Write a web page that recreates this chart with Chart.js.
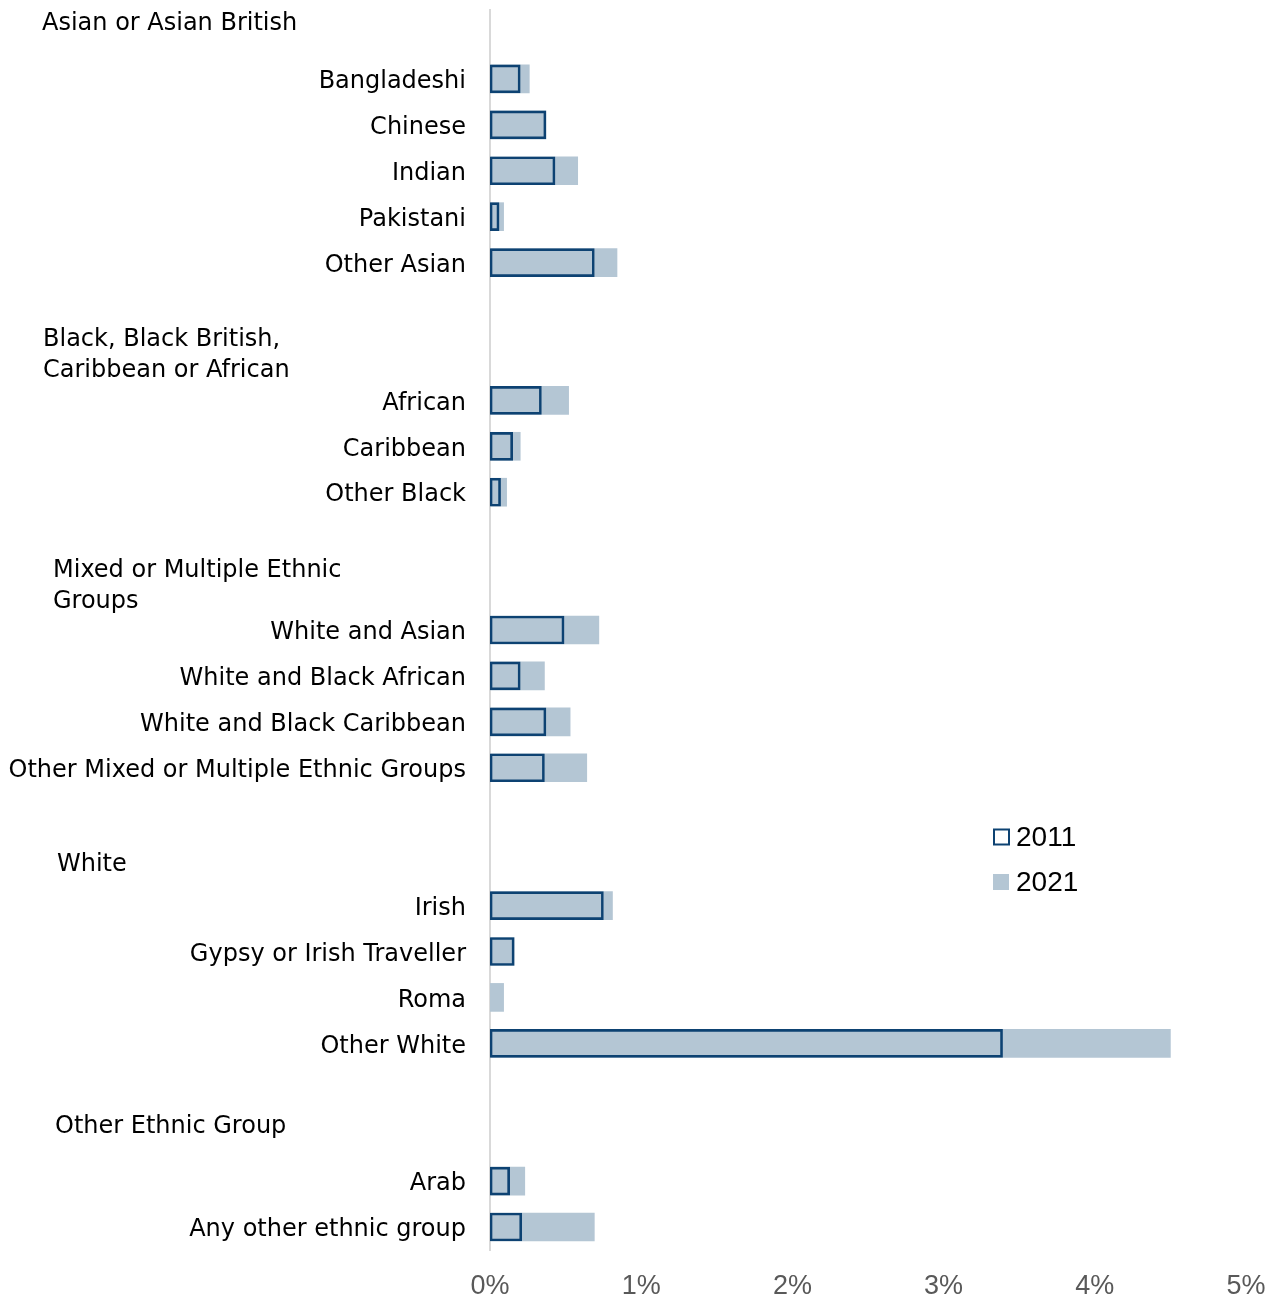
<!DOCTYPE html>
<html>
<head>
<meta charset="utf-8">
<script src="https://cdn.jsdelivr.net/npm/chart.js@4"></script>
<style>
html,body{margin:0;padding:0;background:#fff;}
#wrap{position:relative;width:1275px;height:1298px;}
</style>
</head>
<body>
<div id="wrap"><canvas id="c"></canvas></div>
<script>
const categories = ['', 'Bangladeshi', 'Chinese', 'Indian', 'Pakistani', 'Other Asian', '', '',
  'African', 'Caribbean', 'Other Black', '', '',
  'White and Asian', 'White and Black African', 'White and Black Caribbean', 'Other Mixed or Multiple Ethnic Groups', '', '',
  'Irish', 'Gypsy or Irish Traveller', 'Roma', 'Other White', '', '',
  'Arab', 'Any other ethnic group'];
const values2011 = [null, 0.20, 0.37, 0.43, 0.06, 0.69, null, null,
  0.34, 0.15, 0.07, null, null,
  0.49, 0.20, 0.37, 0.36, null, null,
  0.75, 0.16, null, 3.39, null, null,
  0.13, 0.21];
const values2021 = [null, 0.26, 0.37, 0.58, 0.09, 0.84, null, null,
  0.52, 0.20, 0.11, null, null,
  0.72, 0.36, 0.53, 0.64, null, null,
  0.81, 0.16, 0.09, 4.50, null, null,
  0.23, 0.69];
const groupHeaders = [['Asian or Asian British'], ['Black, Black British,', 'Caribbean or African'],
  ['Mixed or Multiple Ethnic', 'Groups'], ['White'], ['Other Ethnic Group']];
const headerRows = [0, 7, 12, 18, 24];
const xTicks = [0, 1, 2, 3, 4, 5];

const LABEL_FONT = 'DejaVu Sans';
const headerPlugin = {
  id: 'groupHeaders',
  afterDraw(chart, args, opts) {
    const ctx = chart.ctx, y = chart.scales.y;
    ctx.save();
    ctx.font = opts.font;
    ctx.fillStyle = opts.color;
    ctx.textAlign = 'left';
    ctx.textBaseline = 'middle';
    groupHeaders.forEach((lines, i) => {
      const cy = y.getPixelForValue(headerRows[i]) + opts.dy[i];
      const n = lines.length;
      lines.forEach((t, j) => {
        ctx.fillText(t, opts.x[i], cy + (j - (n - 1) / 2) * opts.lineHeight);
      });
    });
    ctx.restore();
  }
};
const legendPlugin = {
  id: 'customLegend',
  afterDraw(chart, args, opts) {
    const ctx = chart.ctx;
    ctx.save();
    chart.data.datasets.forEach((ds, i) => {
      const cy = opts.y + i * opts.gap;
      if (ds.borderWidth) {
        ctx.strokeStyle = ds.borderColor; ctx.lineWidth = 2;
        ctx.strokeRect(opts.x + 1, cy - 7.5, 15, 15);
      } else {
        ctx.fillStyle = ds.backgroundColor;
        ctx.fillRect(opts.x, cy - 8, 16, 16);
      }
      ctx.fillStyle = '#000';
      ctx.font = opts.font;
      ctx.textBaseline = 'middle';
      ctx.textAlign = 'left';
      ctx.fillText(ds.label, opts.x + 23, cy + 1);
    });
    ctx.restore();
  }
};

new Chart(document.getElementById('c'), {
  type: 'bar',
  data: {
    labels: categories,
    datasets: [
      { label: '2011', data: values2011, backgroundColor: 'rgba(0,0,0,0)', borderColor: '#0d4272', borderWidth: 2,
        borderSkipped: false, grouped: false, barThickness: 28 },
      { label: '2021', data: values2021, backgroundColor: '#b4c6d4', borderWidth: 0, grouped: false, barThickness: 28 }
    ]
  },
  options: {
    indexAxis: 'y',
    responsive: true,
    maintainAspectRatio: false,
    animation: false,
    layout: { padding: { top: 10, right: 29, left: 0, bottom: 0 } },
    plugins: {
      legend: { display: false },
      tooltip: { enabled: false },
      groupHeaders: { font: '24px "' + LABEL_FONT + '"', color: '#000', x: [42, 43, 53, 57, 55], dy: [-9, 1, 2, 5, -8], lineHeight: 31 },
      customLegend: { x: 993, y: 837, gap: 45, font: '28px "Liberation Sans Narrow", "Liberation Sans"' }
    },
    scales: {
      x: {
        min: 0, max: 5,
        afterBuildTicks: s => { s.ticks = xTicks.map(v => ({ value: v })); },
        ticks: { callback: v => v + '%', color: '#595959', font: { family: '"Liberation Sans Narrow", "Liberation Sans"', size: 27 }, padding: 20, maxRotation: 0 },
        grid: { display: false, drawTicks: false },
        border: { display: false },
        afterFit: s => { s.height = 48; s.paddingLeft = 0; s.paddingRight = 0; }
      },
      y: {
        ticks: { color: '#000', font: { family: LABEL_FONT, size: 24 }, padding: 24, autoSkip: false, labelOffset: 3 },
        grid: { display: false, drawTicks: false },
        border: { display: true, color: '#d9d9d9', width: 2 },
        afterFit: s => { s.width = 490; s.paddingTop = 0; s.paddingBottom = 0; }
      }
    }
  },
  plugins: [headerPlugin, legendPlugin]
});
</script>
</body>
</html>
